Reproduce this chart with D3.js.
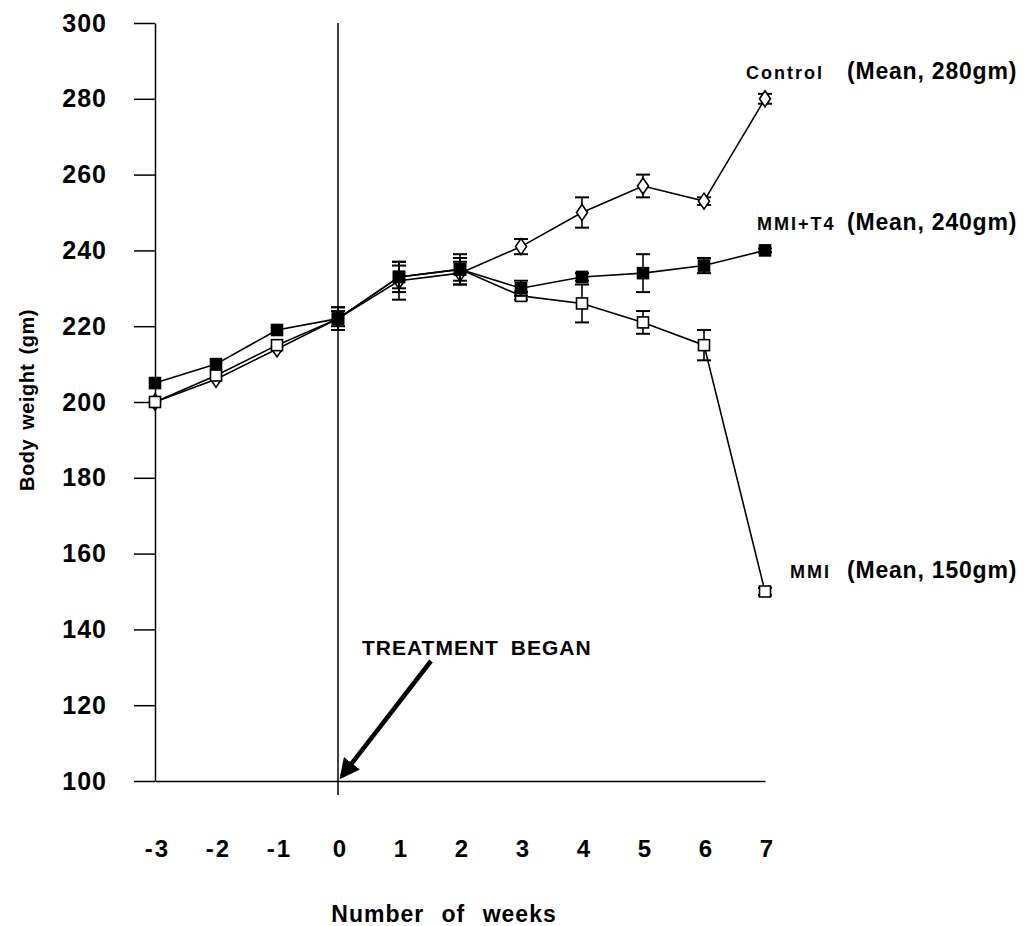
<!DOCTYPE html>
<html>
<head>
<meta charset="utf-8">
<script src="https://cdn.jsdelivr.net/npm/d3@7"></script>
<style>
  body { margin: 0; background: #fff; }
  text { font-family: "Liberation Sans", Arial, sans-serif; font-weight: bold; fill: #000; }
</style>
</head>
<body>
<script>
// week numbers and tick values
const weeks = [-3, -2, -1, 0, 1, 2, 3, 4, 5, 6, 7];
const yTicks = [100, 120, 140, 160, 180, 200, 220, 240, 260, 280, 300];

// Control (open diamond)
const controlMean = [200, 206, 214, 222, 232, 234, 241, 250, 257, 253, 280];
const controlErr  = [0, 0, 0, 3, 5, 3, 2, 4, 3, 1, 1.3];
// MMI+T4 (filled square)
const mmiT4Mean = [205, 210, 219, 222, 233, 235, 230, 233, 234, 236, 240];
const mmiT4Err  = [0, 0, 0, 3, 4, 4, 2, 1, 5, 2, 0.5];
// MMI (open square)
const mmiMean = [200, 207, 215, 222, 233, 235, 228, 226, 221, 215, 150];
const mmiErr  = [0, 0, 0, 2, 3, 3, 1, 5, 3, 4, 1];

const width = 1036, height = 926;

const x = d3.scaleLinear().domain([-3, 7]).range([155, 765]);
const y = d3.scaleLinear().domain([100, 300]).range([781, 23]);

const svg = d3.select("body").append("svg")
    .attr("width", width)
    .attr("height", height);

// y axis
const yAxis = svg.append("g")
    .attr("transform", `translate(${x(-3)},0)`)
    .call(d3.axisLeft(y).tickValues(yTicks).tickSize(21).tickSizeOuter(0).tickPadding(27));
yAxis.selectAll("text").style("font-size", "25px").style("letter-spacing", "1px");
yAxis.selectAll("line, path").attr("stroke", "#000").attr("stroke-width", 1.5);

// x axis
const xAxis = svg.append("g")
    .attr("transform", `translate(0,${y(100)})`)
    .call(d3.axisBottom(x).tickValues(weeks).tickSize(0).tickSizeOuter(0).tickPadding(59).tickFormat(d => String(d)));
xAxis.selectAll("text").style("font-size", "24px").attr("dx", "2px").style("letter-spacing", "2px");
xAxis.select("path").attr("stroke", "#000").attr("stroke-width", 1.5);

// vertical line at week 0
svg.append("line")
    .attr("x1", x(0)).attr("x2", x(0))
    .attr("y1", y(300)).attr("y2", y(100) + 14)
    .attr("stroke", "#000").attr("stroke-width", 1.5);

// axis titles
svg.append("text")
    .attr("x", 444).attr("y", 922)
    .attr("text-anchor", "middle")
    .style("font-size", "23px")
    .style("letter-spacing", "1px")
    .style("word-spacing", "10px")
    .text("Number of weeks");

svg.append("text")
    .attr("transform", "translate(34,400) rotate(-90)")
    .attr("text-anchor", "middle")
    .style("font-size", "20px")
    .style("letter-spacing", "0.5px")
    .style("word-spacing", "3px")
    .text("Body weight (gm)");

const series = [
  { name: "Control", mean: controlMean, err: controlErr, shape: "diamond" },
  { name: "MMI", mean: mmiMean, err: mmiErr, shape: "open" },
  { name: "MMI+T4", mean: mmiT4Mean, err: mmiT4Err, shape: "filled" }
];

const line = d3.line().x(d => x(d.w)).y(d => y(d.v));

series.forEach(s => {
  const pts = weeks.map((w, i) => ({ w, v: s.mean[i], e: s.err[i] }));
  const g = svg.append("g");

  g.append("path")
      .datum(pts)
      .attr("d", line)
      .attr("fill", "none")
      .attr("stroke", "#000")
      .attr("stroke-width", 1.6);

  // error bars
  const eb = g.selectAll(".eb").data(pts.filter(d => d.e > 0)).join("g");
  eb.append("line")
      .attr("x1", d => x(d.w)).attr("x2", d => x(d.w))
      .attr("y1", d => y(d.v - d.e)).attr("y2", d => y(d.v + d.e))
      .attr("stroke", "#000").attr("stroke-width", 1.6);
  [-1, 1].forEach(sign => {
    eb.append("line")
        .attr("x1", d => x(d.w) - 7).attr("x2", d => x(d.w) + 7)
        .attr("y1", d => y(d.v + sign * d.e)).attr("y2", d => y(d.v + sign * d.e))
        .attr("stroke", "#000").attr("stroke-width", 2);
  });

  // markers
  if (s.shape === "diamond") {
    g.selectAll(".m").data(pts).join("path")
        .attr("d", d => `M${x(d.w)},${y(d.v) - 8}L${x(d.w) + 5.5},${y(d.v)}L${x(d.w)},${y(d.v) + 8}L${x(d.w) - 5.5},${y(d.v)}Z`)
        .attr("fill", "#fff").attr("stroke", "#000").attr("stroke-width", 1.6);
  } else {
    g.selectAll(".m").data(pts).join("rect")
        .attr("x", d => x(d.w) - 5.5).attr("y", d => y(d.v) - 5.5)
        .attr("width", 11).attr("height", 11)
        .attr("fill", s.shape === "filled" ? "#000" : "#fff")
        .attr("stroke", "#000").attr("stroke-width", 1.6);
  }
});

// series labels
const labels = [
  { name: "Control", mean: "(Mean, 280gm)", x: 746, y: 79 },
  { name: "MMI+T4", mean: "(Mean, 240gm)", x: 757, y: 230 },
  { name: "MMI", mean: "(Mean, 150gm)", x: 790, y: 578 }
];
labels.forEach(l => {
  svg.append("text")
      .attr("x", l.x).attr("y", l.y)
      .style("font-size", "18px")
      .style("letter-spacing", "2px")
      .text(l.name);
  svg.append("text")
      .attr("x", 847).attr("y", l.y)
      .style("font-size", "23px")
      .style("letter-spacing", "0.8px")
      .text(l.mean);
});

// treatment annotation
svg.append("text")
    .attr("x", 362).attr("y", 655)
    .style("font-size", "21px")
    .style("letter-spacing", "1px")
    .style("word-spacing", "5px")
    .text("TREATMENT BEGAN");

svg.append("defs").append("marker")
    .attr("id", "arrow")
    .attr("viewBox", "0 0 10 10")
    .attr("refX", 8).attr("refY", 5)
    .attr("markerWidth", 4.5).attr("markerHeight", 4.5)
    .attr("orient", "auto")
  .append("path")
    .attr("d", "M0,0L10,5L0,10Z")
    .attr("fill", "#000");

svg.append("line")
    .attr("x1", 431).attr("y1", 661)
    .attr("x2", 342).attr("y2", 776)
    .attr("stroke", "#000").attr("stroke-width", 4.5)
    .attr("marker-end", "url(#arrow)");
</script>
</body>
</html>
